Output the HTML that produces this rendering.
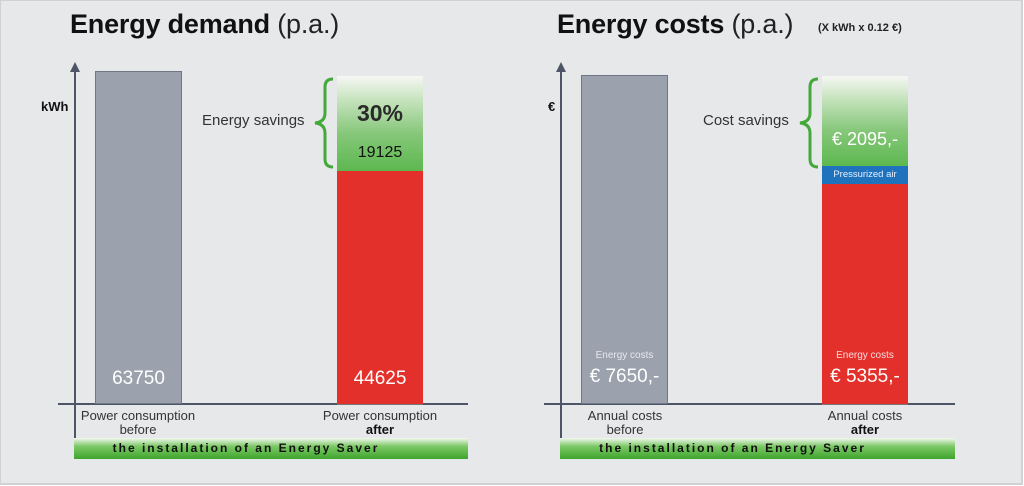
<!DOCTYPE html>
<html><head><meta charset="utf-8"><style>
body{margin:0;width:1024px;height:486px;overflow:hidden;background:#fff;font-family:"Liberation Sans",sans-serif}
#c{position:absolute;left:0;top:0;width:1020px;height:482px;background:#e6e8ea;border:2px solid #cfd1d3;border-left:1px solid #cfd1d3;border-top:1px solid #cfd1d3;}
.a{position:absolute}
.t{font-size:27px;font-weight:bold;color:#111;letter-spacing:-0.2px;white-space:nowrap}
.t span{font-weight:normal;color:#222}
.ln{position:absolute;background:#4d5566}
.gray{position:absolute;background:#9ba1ad;border:1px solid #6f7685;box-sizing:border-box}
.red{position:absolute;background:#e4302b}
.grn{position:absolute;background:linear-gradient(#f6f7f4 0%,#c6e3bd 25%,#86c77a 60%,#5cb84e 100%)}
.strip{position:absolute;height:21px;background:linear-gradient(#f2f8ef 0%,#7cc866 40%,#3fa42d 100%);font-weight:bold;font-size:12px;letter-spacing:2px;color:#111;line-height:20px;box-sizing:border-box;text-align:center}
.lab{position:absolute;font-size:13px;color:#333;text-align:center;line-height:14px;width:160px}
.w{position:absolute;color:#fff;text-align:center}
</style></head><body><div id="c">
<div class="a t" style="left:69px;top:8px">Energy demand <span>(p.a.)</span></div>
<div class="a t" style="left:556px;top:8px">Energy costs <span>(p.a.)</span></div>
<div class="a" style="left:817px;top:21px;font-size:11px;font-weight:bold;color:#222">(X kWh x 0.12 €)</div>

<div class="ln" style="left:73px;top:70px;width:2px;height:367px"></div>
<div class="a" style="left:69px;top:61px;width:0;height:0;border-left:5px solid transparent;border-right:5px solid transparent;border-bottom:10px solid #4d5566"></div>
<div class="ln" style="left:57px;top:402px;width:410px;height:2px"></div>
<div class="a" style="left:40px;top:98px;font-size:13px;font-weight:bold;color:#111">kWh</div>
<div class="gray" style="left:94px;top:70px;width:87px;height:333px"></div>
<div class="w" style="left:94px;top:367px;width:87px;font-size:19px">63750</div>
<div class="grn" style="left:336px;top:75px;width:86px;height:96px"></div>
<div class="red" style="left:336px;top:170px;width:86px;height:233px;border-bottom:1px solid #777"></div>
<div class="a" style="left:336px;top:99px;width:86px;text-align:center;font-size:23px;font-weight:bold;color:#2a2a2a">30%</div>
<div class="a" style="left:336px;top:143px;width:86px;text-align:center;font-size:16px;color:#111">19125</div>
<div class="w" style="left:336px;top:367px;width:86px;font-size:19px">44625</div>
<div class="a" style="left:201px;top:111px;font-size:15px;color:#333">Energy savings</div>
<svg class="a" style="left:308px;top:76px" width="26" height="92"><path d="M24 2 Q16 2 16 10 L16 36 Q16 45 6 46 Q16 47 16 56 L16 82 Q16 90 24 90" fill="none" stroke="#44a83a" stroke-width="3"/></svg>
<div class="lab" style="left:57px;top:408px">Power consumption<br>before</div>
<div class="lab" style="left:299px;top:408px">Power consumption<br><b style="color:#111">after</b></div>
<div class="strip" style="left:73px;top:437px;width:394px;padding-right:50px">the installation of an Energy Saver</div>

<div class="ln" style="left:559px;top:70px;width:2px;height:367px"></div>
<div class="a" style="left:555px;top:61px;width:0;height:0;border-left:5px solid transparent;border-right:5px solid transparent;border-bottom:10px solid #4d5566"></div>
<div class="ln" style="left:543px;top:402px;width:411px;height:2px"></div>
<div class="a" style="left:547px;top:98px;font-size:13px;font-weight:bold;color:#111">€</div>
<div class="gray" style="left:580px;top:74px;width:87px;height:329px"></div>
<div class="w" style="left:580px;top:349px;width:87px;font-size:10px;color:#e8e8ee">Energy costs</div>
<div class="w" style="left:580px;top:365px;width:87px;font-size:19px">€ 7650,-</div>
<div class="grn" style="left:821px;top:75px;width:86px;height:91px"></div>
<div class="a" style="left:821px;top:165px;width:86px;height:19px;background:#1f73bd;color:#e8f0ff;font-size:9.5px;text-align:center;line-height:18px">Pressurized air</div>
<div class="red" style="left:821px;top:183px;width:86px;height:220px;border-bottom:1px solid #777"></div>
<div class="w" style="left:821px;top:128px;width:86px;font-size:18px">€ 2095,-</div>
<div class="w" style="left:821px;top:349px;width:86px;font-size:10px;color:#fbdcdc">Energy costs</div>
<div class="w" style="left:821px;top:365px;width:86px;font-size:19px">€ 5355,-</div>
<div class="a" style="left:702px;top:111px;font-size:15px;color:#333">Cost savings</div>
<svg class="a" style="left:793px;top:76px" width="26" height="92"><path d="M24 2 Q16 2 16 10 L16 36 Q16 45 6 46 Q16 47 16 56 L16 82 Q16 90 24 90" fill="none" stroke="#44a83a" stroke-width="3"/></svg>
<div class="lab" style="left:544px;top:408px">Annual costs<br>before</div>
<div class="lab" style="left:784px;top:408px">Annual costs<br><b style="color:#111">after</b></div>
<div class="strip" style="left:559px;top:437px;width:395px;padding-right:50px">the installation of an Energy Saver</div>
</div></body></html>
